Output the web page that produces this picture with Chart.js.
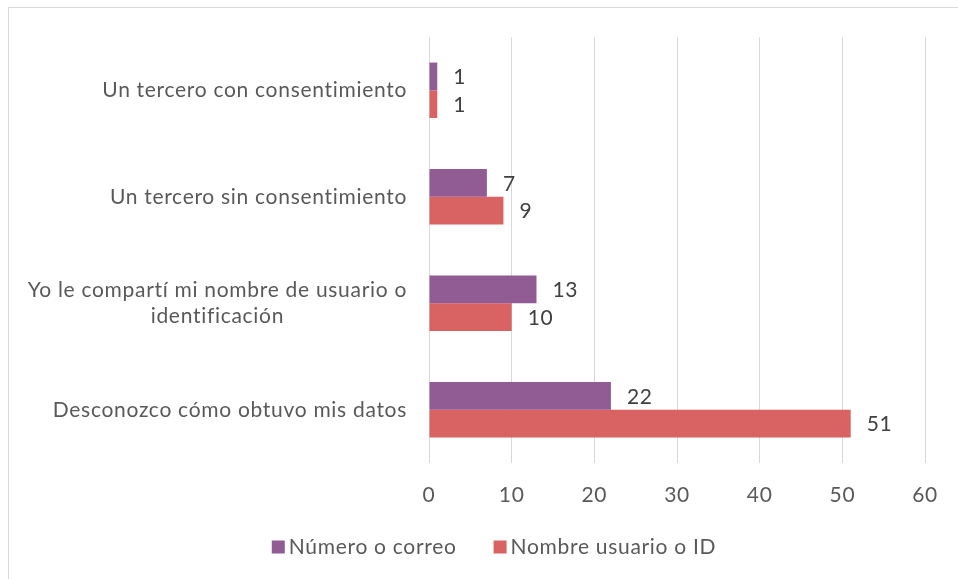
<!DOCTYPE html>
<html>
<head>
<meta charset="utf-8">
<script src="https://cdn.jsdelivr.net/npm/chart.js@4"></script>
<style>
  html, body { margin: 0; padding: 0; background: #fff; overflow: hidden; }
  #wrap { position: relative; width: 958px; height: 579px; }
  #frame { position: absolute; left: 8px; top: 7px; width: 960px; height: 580px; border: 1px solid #d9d9d9; box-sizing: border-box; }
  canvas { position: absolute; left: 0; top: 0; }
</style>
</head>
<body>
<div id="wrap">
  <div id="frame"></div>
  <canvas id="chart" width="958" height="579"></canvas>
</div>
<script>
// data
const categories = [
  ['Un tercero con consentimiento'],
  ['Un tercero sin consentimiento'],
  ['Yo le compartí mi nombre de usuario o', 'identificación'],
  ['Desconozco cómo obtuvo mis datos']
];
const seriesNames = ['Número o correo', 'Nombre usuario o ID'];
const numeroCorreo = [1, 7, 13, 22];
const nombreUsuario = [1, 9, 10, 51];
const xTicks = [0, 10, 20, 30, 40, 50, 60];
const colors = ['#915B93', '#D96262'];

const textColor = '#595959';
const fontFamily = 'Lato, "Open Sans", sans-serif';
const spacing = '0.7px';

// a bit of letter spacing, closer to the original rendering
const letterSpace = {
  id: 'letterSpace',
  beforeUpdate(chart) { chart.ctx.letterSpacing = spacing; },
  beforeDraw(chart) { chart.ctx.letterSpacing = spacing; }
};

// value labels at the end of each bar
const valueLabels = {
  id: 'valueLabels',
  afterDatasetsDraw(chart) {
    const ctx = chart.ctx;
    ctx.save();
    ctx.font = '21px ' + fontFamily;
    ctx.fillStyle = '#404040';
    ctx.textAlign = 'left';
    ctx.textBaseline = 'middle';
    chart.data.datasets.forEach((ds, i) => {
      chart.getDatasetMeta(i).data.forEach((bar, j) => {
        ctx.fillText(ds.data[j], bar.x + 16, bar.y + 1);
      });
    });
    ctx.restore();
  }
};

// category labels: block right aligned, lines centered within the block
const catLabels = {
  id: 'catLabels',
  afterDraw(chart) {
    const ctx = chart.ctx;
    const y = chart.scales.y;
    ctx.save();
    ctx.font = '21px ' + fontFamily;
    ctx.fillStyle = textColor;
    ctx.textBaseline = 'middle';
    ctx.textAlign = 'center';
    const right = chart.chartArea.left - 22;
    const lineH = 26;
    categories.forEach((lines, i) => {
      const cy = y.getPixelForValue(i);
      const widest = Math.max(...lines.map(l => ctx.measureText(l).width));
      const cx = right - widest / 2;
      lines.forEach((l, k) => {
        ctx.fillText(l, cx, cy + (k - (lines.length - 1) / 2) * lineH);
      });
    });
    ctx.restore();
  }
};

// legend below the plot, small squares close to their text
const bottomLegend = {
  id: 'bottomLegend',
  afterDraw(chart) {
    const ctx = chart.ctx;
    ctx.save();
    ctx.font = '21px ' + fontFamily;
    ctx.textBaseline = 'middle';
    ctx.textAlign = 'left';
    const box = 13, gap = 4, itemGap = 37, cy = 547, center = 494;
    const widths = chart.data.datasets.map(ds => box + gap + ctx.measureText(ds.label).width);
    const total = widths.reduce((a, b) => a + b, 0) + itemGap * (widths.length - 1);
    let x = center - total / 2;
    chart.data.datasets.forEach((ds, i) => {
      ctx.fillStyle = ds.backgroundColor;
      ctx.fillRect(x, cy - box / 2, box, box);
      ctx.fillStyle = textColor;
      ctx.fillText(ds.label, x + box + gap, cy);
      x += widths[i] + itemGap;
    });
    ctx.restore();
  }
};

new Chart(document.getElementById('chart'), {
  type: 'bar',
  data: {
    labels: categories,
    datasets: [
      { label: seriesNames[0], data: numeroCorreo, backgroundColor: colors[0], borderWidth: 0 },
      { label: seriesNames[1], data: nombreUsuario, backgroundColor: colors[1], borderWidth: 0 }
    ]
  },
  options: {
    indexAxis: 'y',
    responsive: false,
    animation: false,
    devicePixelRatio: 1,
    layout: { padding: { top: 37, right: 29, left: 0, bottom: 0 } },
    datasets: { bar: { categoryPercentage: 0.52, barPercentage: 1 } },
    scales: {
      x: {
        min: 0,
        max: 60,
        afterBuildTicks: s => { s.ticks = xTicks.map(v => ({ value: v })); },
        afterFit: s => { s.height = 579 - 463; },
        grid: { color: '#d9d9d9', lineWidth: 1, drawTicks: false },
        border: { display: false },
        ticks: { color: textColor, padding: 20, font: { family: fontFamily, size: 21 } }
      },
      y: {
        afterFit: s => { s.width = 429; },
        grid: { display: false },
        border: { display: false },
        ticks: { display: false }
      }
    },
    plugins: {
      legend: { display: false },
      tooltip: { enabled: false }
    }
  },
  plugins: [letterSpace, valueLabels, catLabels, bottomLegend]
});
</script>
</body>
</html>
